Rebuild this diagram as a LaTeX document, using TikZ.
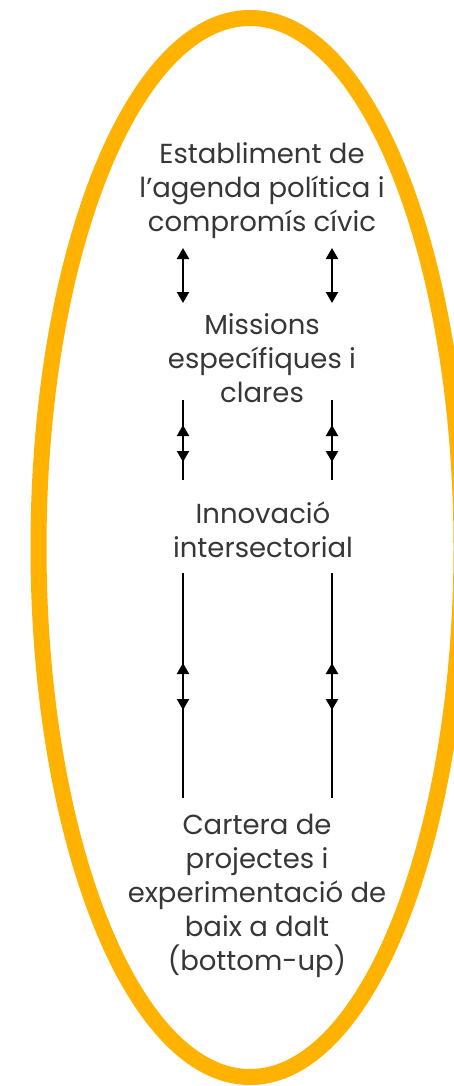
\documentclass[tikz,border=0pt]{standalone}
\usepackage{fontspec}
\setmainfont{Poppins}
\usetikzlibrary{arrows.meta}
\definecolor{ringorange}{RGB}{255,178,0}
\definecolor{txtgray}{RGB}{55,55,55}
\tikzset{
  label/.style={align=center, text=txtgray, font=\fontsize{27.5}{34}\selectfont, inner sep=0pt},
  link/.style={line width=2.2pt, black},
  tip/.style={-{Triangle[width=12pt,length=11pt]}},
  bitip/.style={{Triangle[width=12pt,length=11pt]}-{Triangle[width=12pt,length=11pt]}},
}
\begin{document}
\begin{tikzpicture}[x=1pt,y=-1pt]
\useasboundingbox (0,0) rectangle (454,1086);
\fill[white] (0,0) rectangle (454,1086);
\draw[ringorange, line width=16pt] (250,547.5) ellipse [x radius=211.5, y radius=529.5];

\node[label] (n1) at (262,191) {Establiment de\\l’agenda política i\\compromís cívic};
\node[label] (n2) at (262,358) {Missions\\específiques i\\clares};
\node[label] (n3) at (263,530) {Innovació\\intersectorial};
\node[label] (n4) at (257,896) {Cartera de\\projectes i\\experimentació de\\baix a dalt\\(bottom-up)};

% pair 1
\coordinate (a1t) at (183,248); \coordinate (a1b) at (183,303);
\coordinate (b1t) at (332,248); \coordinate (b1b) at (332,303);
\draw[link,bitip] (a1t) -- (a1b);
\draw[link,bitip] (b1t) -- (b1b);

% pair 2
\coordinate (a2t) at (183,400); \coordinate (a2u) at (183,425);
\coordinate (a2d) at (183,462); \coordinate (a2b) at (183,480);
\coordinate (b2t) at (332,400); \coordinate (b2u) at (332,425);
\coordinate (b2d) at (332,462); \coordinate (b2b) at (332,480);
\draw[link,tip] (a2b) -- (a2u);
\draw[link,tip] (a2t) -- (a2d);
\draw[link,tip] (b2b) -- (b2u);
\draw[link,tip] (b2t) -- (b2d);

% pair 3
\coordinate (a3t) at (183,573); \coordinate (a3u) at (183,663);
\coordinate (a3d) at (183,710); \coordinate (a3b) at (183,798);
\coordinate (b3t) at (332,573); \coordinate (b3u) at (332,663);
\coordinate (b3d) at (332,710); \coordinate (b3b) at (332,798);
\draw[link,tip] (a3b) -- (a3u);
\draw[link,tip] (a3t) -- (a3d);
\draw[link,tip] (b3b) -- (b3u);
\draw[link,tip] (b3t) -- (b3d);
\end{tikzpicture}
\end{document}
